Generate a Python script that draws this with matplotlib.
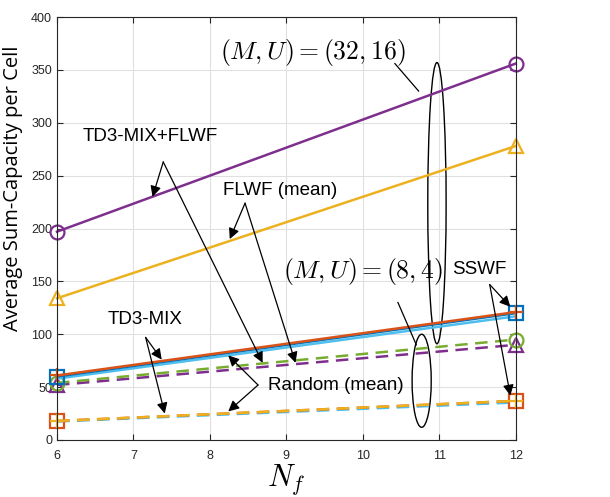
import matplotlib
matplotlib.use("Agg")
import matplotlib.pyplot as plt
from matplotlib.patches import Ellipse

plt.rcParams['mathtext.fontset'] = 'cm'

# number of frequency blocks
nf = [6, 12]

# (M, U) = (32, 16)
td3_flwf_32 = [197, 356]
flwf_32 = [134, 278]
td3_32 = [61, 121]
sswf_32 = [60, 120]
random_32 = [58, 117]

# (M, U) = (8, 4)
td3_flwf_8 = [54, 95]
flwf_8 = [52, 90]
td3_8 = [18, 37]
sswf_8 = [18, 37]
random_8 = [17.5, 35.5]

yticks = [0, 50, 100, 150, 200, 250, 300, 350, 400]

blue = '#0072BD'
red = '#D95319'
yellow = '#EDB120'
purple = '#7E2F8E'
green = '#77AC30'
cyan = '#4DBEEE'

fig = plt.figure(figsize=(6.1, 4.97), dpi=100)
ax = fig.add_axes([0.0934, 0.1147, 0.752, 0.851])

dash = (0, (5, 3))
kw = dict(lw=1.8, markersize=10, markerfacecolor='none', markeredgewidth=1.6, clip_on=False)

# lower group, dashed
ax.plot(nf, random_8, color=cyan, ls=dash, **kw)
ax.plot(nf, sswf_8, color=red, ls=dash, marker='s', **kw)
ax.plot(nf, td3_8, color=yellow, ls=dash, marker='+', **kw)
ax.plot(nf, flwf_8, color=purple, ls=dash, marker='^', **kw)
ax.plot(nf, td3_flwf_8, color=green, ls=dash, marker='o', **kw)

# upper group, solid
ax.plot(nf, random_32, color=cyan, **kw)
ax.plot(nf, sswf_32, color=blue, marker='s', **kw)
ax.plot(nf, td3_32, color=red, marker='+', **kw)
ax.plot(nf, flwf_32, color=yellow, marker='^', **kw)
ax.plot(nf, td3_flwf_32, color=purple, marker='o', **kw)

ax.set_xlim(6, 12)
ax.set_ylim(0, 400)
ax.set_yticks(yticks)
ax.set_xticks(range(6, 13))
ax.grid(True, color='#e0e0e0', lw=0.8)
ax.set_axisbelow(True)
ax.tick_params(direction='in', top=True, right=True, labelsize=9, colors='#262626', length=4)
ax.tick_params(axis='x', pad=7)
for s in ax.spines.values():
    s.set_color('#262626')
    s.set_linewidth(0.8)
for lbl in ax.get_xticklabels() + ax.get_yticklabels():
    lbl.set_family('Liberation Sans')

ax.set_xlabel(r'$N_f$', fontsize=22, labelpad=0)
ax.set_ylabel('Average Sum-Capacity per Cell', fontsize=14.5, family='Open Sans')
ax.yaxis.set_label_coords(-0.075, 0.595)

arr = dict(arrowstyle='-|>', color='k', lw=0.9, mutation_scale=16, shrinkA=0, shrinkB=0)
tfont = dict(fontsize=13.5, family='Liberation Sans', ha='center', va='center')


def arrows(start, tips):
    for t in tips:
        ax.annotate('', xy=t, xytext=start, arrowprops=arr)


ax.text(7.22, 287, 'TD3-MIX+FLWF', **tfont)
arrows((7.39, 263), [(7.25, 230), (8.69, 73)])

ax.text(8.92, 236, 'FLWF (mean)', **tfont)
arrows((8.46, 224), [(8.26, 190), (9.12, 73)])

ax.text(7.15, 114, 'TD3-MIX', **tfont)
arrows((7.16, 97), [(7.37, 76), (7.41, 25)])

ax.text(9.65, 52, 'Random (mean)', **tfont)
arrows((8.63, 52), [(8.24, 80), (8.24, 27)])

ax.text(11.53, 161, 'SSWF', **tfont)
arrows((11.66, 147), [(11.93, 126), (11.93, 42)])

# ellipses grouping the two antenna/user configurations
ax.text(9.35, 366, r'$(M,U)=(32,16)$', fontsize=18.5, ha='center', va='center')
ax.plot([10.42, 10.73], [356, 330], color='k', lw=0.9)
ax.add_patch(Ellipse((10.97, 224), 0.24, 266, fill=False, color='k', lw=1))

ax.text(10.0, 159, r'$(M,U)=(8,4)$', fontsize=18.5, ha='center', va='center')
ax.plot([10.46, 10.70], [130, 90], color='k', lw=0.9)
ax.add_patch(Ellipse((10.77, 56), 0.25, 88, fill=False, color='k', lw=1))

fig.savefig('out.png', dpi=100)
